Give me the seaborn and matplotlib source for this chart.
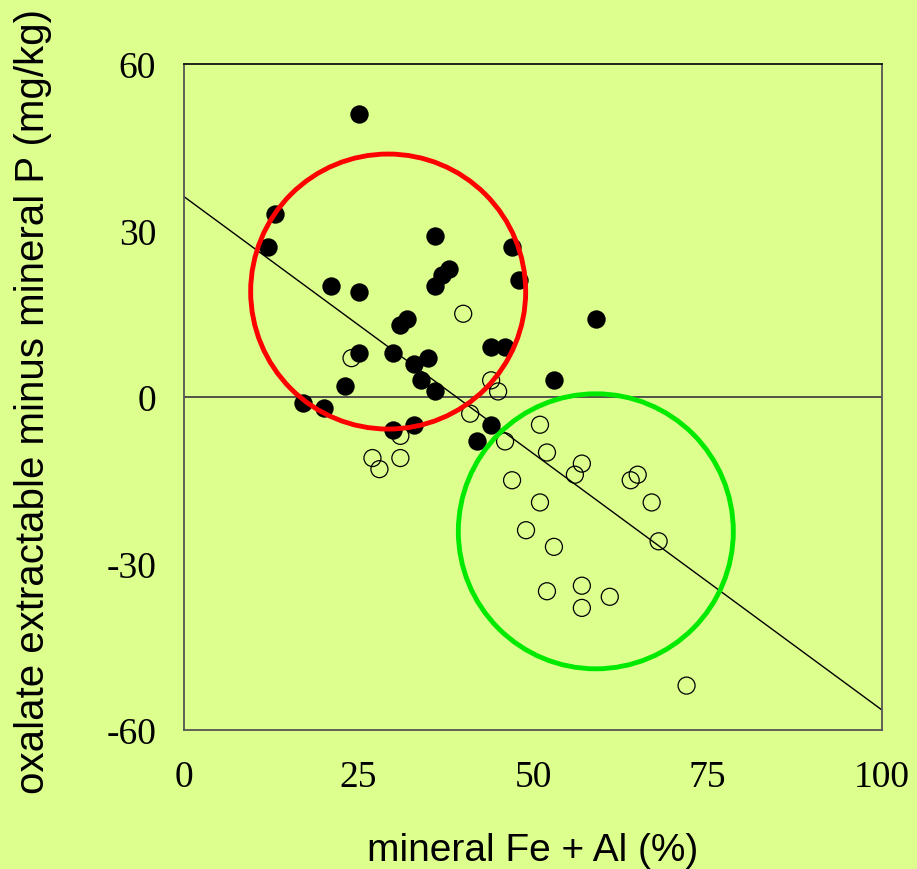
import matplotlib
matplotlib.use("Agg")
import matplotlib.pyplot as plt
from matplotlib.patches import Ellipse
import numpy as np
import pandas as pd
import seaborn as sns

# ---- data ----
filled_x = [25, 13, 12, 36, 47, 38, 37, 36, 48, 21, 25, 32, 31, 59, 25, 30, 35, 33,
            44, 46, 34, 36, 23, 53, 17, 20, 44, 42, 30, 33]
filled_y = [51, 33, 27, 29, 27, 23, 22, 20, 21, 20, 19, 14, 13, 14, 8, 8, 7, 6,
            9, 9, 3, 1, 2, 3, -1, -2, -5, -8, -6, -5]

open_x = [40, 24, 44, 45, 41, 46, 31, 27, 28, 31, 51, 52, 57, 56, 65, 64, 47, 67,
          51, 49, 53, 68, 52, 57, 57, 61, 72]
open_y = [15, 7, 3, 1, -3, -8, -7, -11, -13, -11, -5, -10, -12, -14, -14, -15, -15, -19,
          -19, -24, -27, -26, -35, -34, -38, -36, -52]

# regression line
line_intercept = 36.1
line_slope = -0.925

# highlight circles (centre x, centre y)
red_center = (29.25, 19.0)
green_center = (59.0, -24.2)
circle_radius_px = 137.5

x_ticks = [0, 25, 50, 75, 100]
y_ticks = [-60, -30, 0, 30, 60]

bg = "#DDFF8E"

sns.set_style("white")
plt.rcParams["font.family"] = ["Liberation Serif", "DejaVu Serif"]
plt.rcParams["axes.unicode_minus"] = False
plt.rcParams["text.color"] = "black"
plt.rcParams["axes.labelcolor"] = "black"
plt.rcParams["xtick.labelcolor"] = "black"
plt.rcParams["ytick.labelcolor"] = "black"

fig = plt.figure(figsize=(9.17, 8.70), dpi=100)
fig.patch.set_facecolor(bg)
ax = fig.add_axes([184 / 917, 1 - 731 / 870, (882 - 184) / 917, (731 - 65) / 870])
ax.set_facecolor(bg)

ax.set_xlim(0, 100)
ax.set_ylim(-60, 60)

# zero line
ax.axhline(0, color="#444444", lw=1.3, zorder=1)

# regression line
lx = np.array([0, 100])
ax.plot(lx, line_intercept + line_slope * lx, color="black", lw=1.0, zorder=2)

df_open = pd.DataFrame({"x": open_x, "y": open_y})
df_filled = pd.DataFrame({"x": filled_x, "y": filled_y})

sns.scatterplot(data=df_open, x="x", y="y", ax=ax, s=150, facecolor="none",
                edgecolor="black", linewidth=0.9, zorder=3, legend=False)
sns.scatterplot(data=df_filled, x="x", y="y", ax=ax, s=175, color="black",
                edgecolor="black", linewidth=0, zorder=4, legend=False)

# circles: convert pixel radius to data units
px_per_x = (882 - 184) / 100
px_per_y = (731 - 65) / 120
w = 2 * circle_radius_px / px_per_x
h = 2 * circle_radius_px / px_per_y
ax.add_patch(Ellipse(red_center, w, h, fill=False, edgecolor="#FF0000", lw=3.5, zorder=5))
ax.add_patch(Ellipse(green_center, w, h, fill=False, edgecolor="#00EA00", lw=3.5, zorder=5))

ax.set_xticks(x_ticks)
ax.set_yticks(y_ticks)
ax.tick_params(axis="both", direction="in", length=12, width=1.3, color="#555555",
               labelsize=27, labelcolor="black", pad=20, top=False, right=False)
ax.tick_params(axis="x", pad=21)

for side in ["left", "bottom", "right"]:
    ax.spines[side].set_color("#555555")
    ax.spines[side].set_linewidth(1.3)
ax.spines["top"].set_color("#111111")
ax.spines["top"].set_linewidth(1.3)

sans = ["Liberation Sans", "DejaVu Sans"]
ax.set_xlabel("mineral Fe + Al (%)", fontsize=28, family=sans, va="baseline", color="black")
ax.set_ylabel("oxalate extractable minus mineral P (mg/kg)", fontsize=29, family=sans,
              color="black")
ax.xaxis.set_label_coords(0.5, (731 - 861) / 666)
ax.yaxis.set_label_coords(-0.189, 0.494)

fig.savefig("out.png", dpi=100, facecolor=bg)
